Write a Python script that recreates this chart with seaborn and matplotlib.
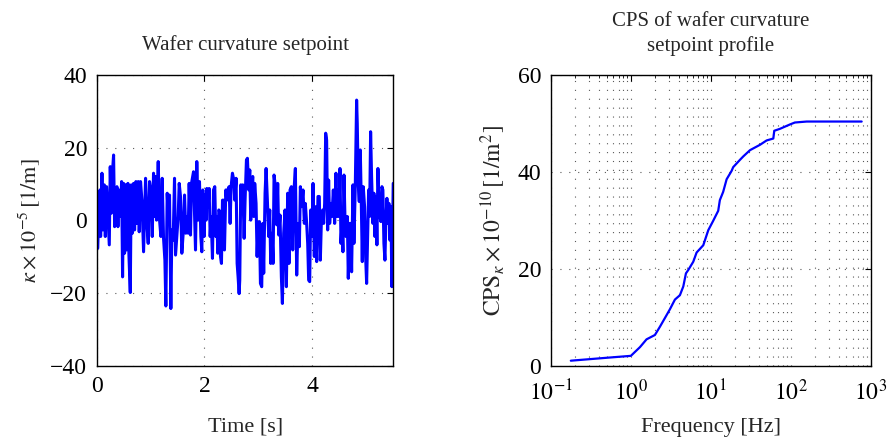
import numpy as np
import pandas as pd
import matplotlib
matplotlib.use("Agg")
import matplotlib.pyplot as plt
import seaborn as sns
from matplotlib.ticker import LogLocator, NullFormatter, FixedLocator

# ---- Data: wafer curvature setpoint (time in s, kappa in 1e-5 1/m) ----
time_s = [0.000, 0.003, 0.015, 0.040, 0.059, 0.071, 0.096, 0.114, 0.139, 0.158,
          0.182, 0.207, 0.232, 0.250, 0.269, 0.294, 0.312, 0.331, 0.349, 0.374,
          0.393, 0.411, 0.436, 0.461, 0.479, 0.498, 0.516, 0.535, 0.553, 0.578,
          0.597, 0.622, 0.640, 0.659, 0.683, 0.702, 0.727, 0.745, 0.770, 0.788,
          0.813, 0.838, 0.869,
          0.906, 0.931, 0.955, 0.980, 1.005, 1.030, 1.054, 1.073, 1.092, 1.110,
          1.141, 1.166, 1.191, 1.215, 1.240, 1.265, 1.283, 1.308, 1.333, 1.351,
          1.376, 1.395, 1.419, 1.444, 1.463, 1.487, 1.512, 1.531, 1.555, 1.580,
          1.605, 1.630, 1.654, 1.679, 1.698, 1.716, 1.741, 1.759,
          1.797, 1.809, 1.834, 1.858, 1.883, 1.908, 1.933, 1.951, 1.970, 1.994,
          2.013, 2.032, 2.044, 2.069, 2.087, 2.106, 2.124, 2.149, 2.168, 2.192,
          2.211, 2.230, 2.248, 2.267, 2.285, 2.298, 2.316, 2.335, 2.353, 2.372,
          2.397, 2.415, 2.434, 2.458, 2.477, 2.495, 2.520, 2.545, 2.563, 2.588,
          2.607, 2.625, 2.644,
          2.656, 2.675, 2.693, 2.712, 2.737, 2.755, 2.780, 2.798, 2.823, 2.842,
          2.860, 2.879, 2.897, 2.916, 2.934, 2.959, 2.978, 2.996, 3.021, 3.040,
          3.064, 3.083, 3.101, 3.126, 3.145, 3.169, 3.194, 3.213, 3.231, 3.256,
          3.275, 3.293, 3.318, 3.343, 3.361, 3.380, 3.404, 3.429, 3.448, 3.472,
          3.497, 3.522, 3.546,
          3.571, 3.590, 3.615, 3.640, 3.664, 3.689, 3.714, 3.738, 3.763, 3.782,
          3.806, 3.831, 3.856, 3.874, 3.899, 3.918, 3.936, 3.955, 3.974, 3.998,
          4.017, 4.041, 4.060, 4.085, 4.109, 4.134, 4.153, 4.171, 4.196, 4.215,
          4.233, 4.252, 4.270, 4.289, 4.307, 4.326, 4.351, 4.369, 4.394, 4.419,
          4.443, 4.462, 4.481, 4.499, 4.518, 4.536, 4.555, 4.573, 4.592, 4.610,
          4.629, 4.654, 4.672, 4.697, 4.716, 4.734, 4.759, 4.777, 4.802, 4.827,
          4.839, 4.858, 4.876, 4.895, 4.913, 4.932, 4.950, 4.975, 4.994, 5.013,
          5.031, 5.050, 5.068, 5.087, 5.105, 5.130, 5.148, 5.167, 5.186, 5.204,
          5.223, 5.241, 5.260, 5.278, 5.297, 5.315, 5.334, 5.353, 5.371, 5.390,
          5.408, 5.427, 5.445, 5.464, 5.482, 5.507]

kappa = [-0.8, 6.6, -7.7, 1.1, 8.4, -4.4, 13.0, -2.6, 9.8, -4.4,
         9.3, 1.1, -6.7, 14.8, 2.0, 13.9, 18.0, -1.7, 3.8, 9.3,
         -1.7, 8.4, 1.1, 10.7, -15.5, 10.2, -9.0, 9.8, -8.1, 10.2,
         -9.5, -19.8, 9.8, -3.5, 10.2, -2.6, 10.7, -0.8, 10.7, -3.1,
         10.7, 5.6, -8.6,
         11.6, -0.8, -6.3, 10.7, 8.4, -4.4, 13.0, 1.1, 12.1, 0.1,
         16.2, 0.1, -4.4, 11.6, -4.9, -10.9, -23.5, 7.5, -0.8, 7.0,
         -24.2, -2.6, -5.4, 11.6, -9.5, -4.4, 1.1, 10.2, 6.6, -9.0,
         -3.5, 7.0, -3.5, 1.1, -3.5, 10.2, -4.0, 10.2,
         13.4, 5.6, -8.1, 16.2, 0.1, 10.7, -4.4, -8.6, 8.4, -4.4,
         7.0, 0.1, 8.8, 3.8, 8.8, -4.4, 1.1, -10.4, 8.4, 9.3,
         -4.4, 1.1, -9.0, 2.9, 2.4, -9.9, -11.8, 5.6, 5.6, -8.1,
         8.4, 5.6, 8.4, 9.3, -0.8, 9.3, 13.0, 11.1, 5.6, 11.6,
         -11.8, -15.5, -20.1,
         -16.4, 9.8, 3.8, 9.8, -4.9, 5.6, 16.6, 17.1, 8.4, 13.9,
         0.1, 8.4, 12.1, 1.1, 10.2, 4.7, -9.9, -1.7, -0.3, -17.3,
         -18.2, -0.8, -14.5, 7.5, 14.3, 5.6, -4.4, 2.9, -11.8, -3.5,
         -11.8, 12.5, 9.3, -1.2, 10.2, -4.0, 1.5, -15.5, -22.8, -3.5,
         2.9, -18.2, 7.5,
         -11.8, 8.4, 9.3, -8.1, 8.4, 14.3, -15.0, -0.8, -7.2, 9.3,
         3.8, 8.4, -0.8, 4.7, -0.8, -6.3, -16.4, -16.8, 2.9, -4.4,
         10.2, -9.9, 3.8, -11.3, 6.6, 6.6, -10.9, -0.8, 2.9, -0.8,
         4.7, 24.0, 22.1, -2.6, 11.1, -0.8, 4.7, 1.1, 8.4, -0.8,
         13.0, 1.1, 8.4, 1.1, 14.3, -6.3, -0.8, -8.6, 12.5, 1.1,
         -4.4, 1.1, -15.9, -0.8, -0.8, -14.1, 9.8, -6.3, 9.3, 33.1,
         26.7, 9.8, 5.2, 19.4, 5.6, -11.3, 9.3, 3.8, -9.9, -17.3,
         -4.4, 8.4, 1.1, 24.4, 12.1, -0.8, 7.5, -4.4, 6.6, -6.7,
         14.3, 5.6, 1.1, -0.3, 9.3, 8.4, -6.3, -10.9, 0.1, 6.1,
         -0.8, 4.7, -5.4, 3.8, -18.2, 10.2]

# ---- Data: cumulative power spectrum ----
freq_hz = [0.177, 0.496, 1.0, 1.30, 1.57, 2.0, 2.31, 2.80, 3.08, 3.56,
           4.11, 4.53, 4.89, 5.23, 6.04, 6.65, 8.06, 9.31, 10.7, 12.4,
           13.0, 14.3, 15.8, 18.2, 19.1, 23.2, 25.5, 31.0, 41.3, 50.0,
           60.7, 62.4, 73.5, 98.1, 113, 159, 775]
cps = [1.1, 1.7, 2.1, 3.9, 5.5, 6.4, 8.1, 10.5, 11.7, 13.7,
       14.6, 16.4, 19.1, 19.8, 21.5, 23.4, 24.9, 28.0, 29.9, 32.0,
       34.2, 35.9, 38.5, 40.2, 41.0, 42.5, 43.2, 44.5, 45.6, 46.5,
       46.9, 48.5, 48.9, 49.8, 50.2, 50.4, 50.4]

left_title = "Wafer curvature setpoint"
right_title = "CPS of wafer curvature\nsetpoint profile"
left_xlabel = "Time [s]"
left_ylabel = r"$\kappa \times 10^{-5}\,[1/\mathrm{m}]$"
right_xlabel = "Frequency [Hz]"
right_ylabel = r"$\mathrm{CPS}_{\kappa} \times 10^{-10}\,[1/\mathrm{m}^2]$"

sns.set_style("white")
plt.rcParams["font.family"] = ["Liberation Serif", "DejaVu Serif"]
plt.rcParams["mathtext.fontset"] = "stix"
plt.rcParams["font.size"] = 16

df_t = pd.DataFrame({"t": time_s, "k": kappa})
df_f = pd.DataFrame({"f": freq_hz, "c": cps})

fig = plt.figure(figsize=(8.88, 4.41), dpi=100)
ax1 = fig.add_axes([0.109, 0.170, 0.334, 0.660])
ax2 = fig.add_axes([0.6205, 0.170, 0.3598, 0.660])

grid_kw = dict(color="0.35", linestyle=(0, (1, 7)), linewidth=0.8)

sns.lineplot(data=df_t, x="t", y="k", ax=ax1, color="#0000ff", linewidth=2.2,
             sort=False, estimator=None)
ax1.set_xlim(0, 5.51)
ax1.set_ylim(-40, 40)
ax1.set_xticks([0, 2, 4])
ax1.set_yticks([-40, -20, 0, 20, 40])
ax1.set_yticklabels(["\u221240", "\u221220", "0", "20", "40"])
ax1.grid(True, which="major", **grid_kw)
ax1.set_title(left_title, pad=18, fontsize=15)
ax1.set_xlabel(left_xlabel, fontsize=16, labelpad=15)
ax1.set_ylabel(left_ylabel, fontsize=16, labelpad=5)

sns.lineplot(data=df_f, x="f", y="c", ax=ax2, color="#0000ff", linewidth=1.6,
             sort=False, estimator=None)
ax2.set_xscale("log")
ax2.set_xlim(0.1, 1000)
ax2.set_ylim(0, 60)
ax2.set_yticks([0, 20, 40, 60])
ax2.xaxis.set_major_locator(FixedLocator([0.1, 1, 10, 100, 1000]))
ax2.set_xticklabels([r"$10^{-1}$", r"$10^{0}$", r"$10^{1}$", r"$10^{2}$", r"$10^{3}$"])
ax2.xaxis.set_minor_locator(LogLocator(base=10, subs=np.arange(2, 10), numticks=20))
ax2.xaxis.set_minor_formatter(NullFormatter())
ax2.grid(True, which="major", **grid_kw)
ax2.grid(True, which="minor", axis="x", **grid_kw)
ax2.set_title(right_title, pad=17, fontsize=15, linespacing=1.35)
ax2.set_xlabel(right_xlabel, fontsize=16, labelpad=9)
ax2.set_ylabel(right_ylabel, fontsize=17, labelpad=7)

for ax in (ax1, ax2):
    ax.set_axisbelow(True)
    for s in ax.spines.values():
        s.set_visible(True)
        s.set_color("black")
        s.set_linewidth(1.0)
    ax.tick_params(which="both", direction="in", top=True, right=True,
                   colors="black", labelsize=17)
    ax.tick_params(which="major", length=4, width=0.8)
    ax.tick_params(which="minor", length=2, width=0.6)
    ax.tick_params(axis="y", pad=7)
ax1.tick_params(axis="x", pad=7)
ax2.tick_params(axis="x", pad=10)

fig.savefig("out.png", dpi=100)
